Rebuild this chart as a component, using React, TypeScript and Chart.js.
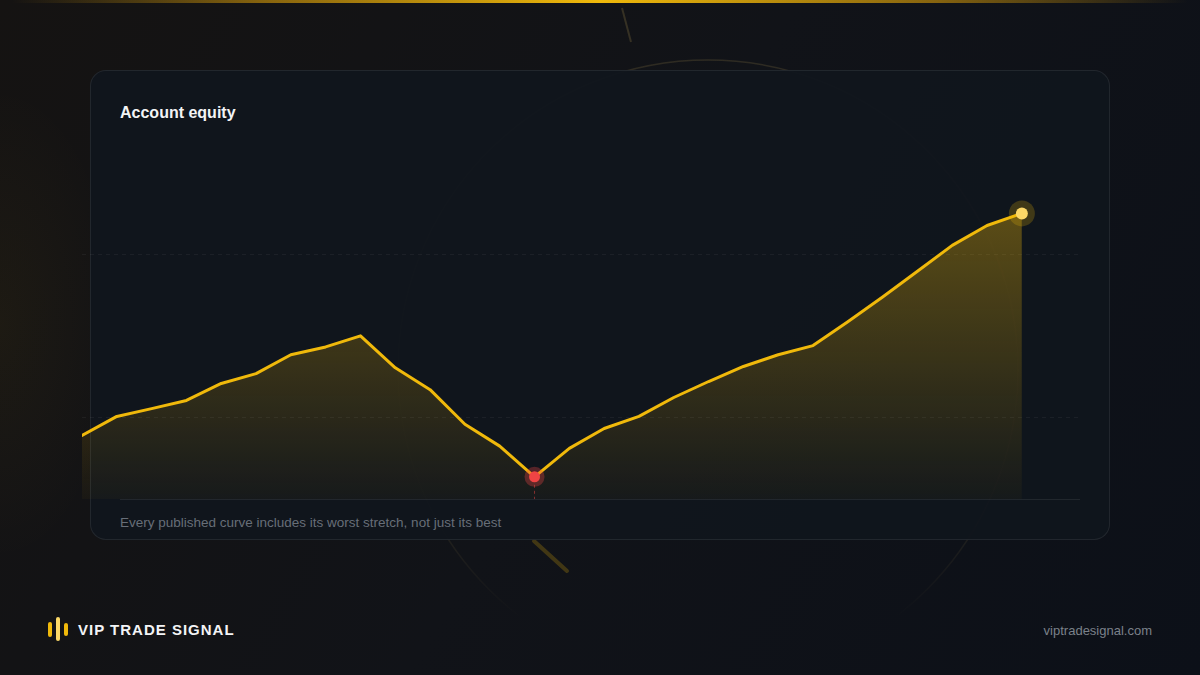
import { Chart, registerables } from 'chart.js';
Chart.register(...registerables);
import React, { useEffect, useRef } from 'react';

// weekly account equity (index, start ≈ 100)
const weeks = [
    'W1', 'W2', 'W3', 'W4', 'W5', 'W6', 'W7', 'W8', 'W9', 'W10', 'W11', 'W12', 'W13', 'W14',
    'W15', 'W16', 'W17', 'W18', 'W19', 'W20', 'W21', 'W22', 'W23', 'W24', 'W25', 'W26', 'W27', 'W28',
];
const equity = [
    94.5, 100.3, 102.7, 105.2, 110.4, 113.4, 119.2, 121.6, 125.0, 115.2, 108.5, 97.9, 91.2, 81.8,
    90.5, 96.6, 100.3, 106.1, 111.0, 115.6, 119.2, 122.0, 129.3, 136.9, 144.8, 152.7, 158.8, 162.5,
];
const gridValues = [100, 150];

const GOLD = '#f0b90b';

const markers = {
    id: 'markers',
    afterDatasetsDraw(chart: any) {
        const meta = chart.getDatasetMeta(0);
        const ctx = chart.ctx;
        const lowIdx = equity.indexOf(Math.min(...equity));
        const low = meta.data[lowIdx];
        const last = meta.data[equity.length - 1];
        const bottom = chart.chartArea.bottom;
        ctx.save();
        // drawdown drop line
        ctx.setLineDash([3, 3]);
        ctx.strokeStyle = 'rgba(239, 68, 68, 0.5)';
        ctx.lineWidth = 1;
        ctx.beginPath();
        ctx.moveTo(low.x, low.y + 8);
        ctx.lineTo(low.x, bottom);
        ctx.stroke();
        ctx.setLineDash([]);
        // low point
        ctx.fillStyle = 'rgba(239, 68, 68, 0.32)';
        ctx.beginPath(); ctx.arc(low.x, low.y, 10, 0, Math.PI * 2); ctx.fill();
        ctx.fillStyle = '#ef4444';
        ctx.beginPath(); ctx.arc(low.x, low.y, 5.5, 0, Math.PI * 2); ctx.fill();
        // last point
        ctx.fillStyle = 'rgba(240, 185, 11, 0.22)';
        ctx.beginPath(); ctx.arc(last.x, last.y, 13, 0, Math.PI * 2); ctx.fill();
        ctx.fillStyle = '#fcd867';
        ctx.beginPath(); ctx.arc(last.x, last.y, 6, 0, Math.PI * 2); ctx.fill();
        ctx.restore();
    },
};

const EquityChart: React.FC = () => {
    const ref = useRef<HTMLCanvasElement>(null);

    useEffect(() => {
        if (!ref.current) return;
        const chart = new Chart(ref.current, {
            type: 'line',
            data: {
                labels: weeks,
                datasets: [
                    {
                        data: equity.map((v, i) => ({ x: i, y: v })),
                        borderColor: GOLD,
                        borderWidth: 3,
                        borderJoinStyle: 'round',
                        borderCapStyle: 'round',
                        tension: 0,
                        pointRadius: 0,
                        fill: 'start',
                        backgroundColor: (c: any) => {
                            const area = c.chart.chartArea;
                            if (!area) return 'rgba(240,185,11,0.2)';
                            const g = c.chart.ctx.createLinearGradient(0, area.top, 0, area.bottom);
                            g.addColorStop(0, 'rgba(240, 185, 11, 0.42)');
                            g.addColorStop(1, 'rgba(240, 185, 11, 0.03)');
                            return g;
                        },
                    },
                ],
            },
            options: {
                responsive: true,
                maintainAspectRatio: false,
                animation: false,
                layout: { padding: { left: 10, right: 10, top: 10, bottom: 10 } },
                scales: {
                    x: { type: 'linear', min: 0, max: 28.67, display: false },
                    y: {
                        min: 75,
                        max: 185,
                        afterBuildTicks: (s: any) => { s.ticks = gridValues.map((v) => ({ value: v })); },
                        ticks: { display: false },
                        border: { display: false, dash: [4, 4] },
                        grid: { color: 'rgba(255, 255, 255, 0.05)', drawTicks: false },
                    } as any,
                },
                plugins: {
                    legend: { display: false },
                    tooltip: { enabled: false },
                },
            },
            plugins: [markers],
        });

        return () => {
            chart.destroy();
        };
    }, []);

    return <canvas ref={ref}></canvas>;
};

const App: React.FC = () => {
    const font = '"Liberation Sans", Arial, Helvetica, sans-serif';
    return (
        <div style={{
            position: 'fixed', left: 0, top: 0, width: 1200, height: 675, overflow: 'hidden', fontFamily: font,
            background: 'radial-gradient(ellipse 120px 240px at 0% 48%, rgba(240,185,11,0.045), transparent), linear-gradient(120deg, #151312 0%, #111318 50%, #0c1018 100%)',
        }}>
            {/* top gold bar */}
            <div style={{
                position: 'absolute', left: 0, top: 0, width: 1200, height: 3,
                background: 'linear-gradient(90deg, rgba(240,185,11,0) 1%, rgba(184,134,11,0.7) 22%, #f0b90b 50%, rgba(184,134,11,0.7) 78%, rgba(240,185,11,0) 99%)',
            }} />
            {/* decorative rings */}
            <svg width={1200} height={675} style={{ position: 'absolute', left: 0, top: 0 }}>
                <defs>
                    <linearGradient id="ringFade" x1="0" y1="0" x2="0" y2="1">
                        <stop offset="0" stopColor="rgb(200,170,90)" stopOpacity={0.16} />
                        <stop offset="0.72" stopColor="rgb(200,170,90)" stopOpacity={0.12} />
                        <stop offset="0.9" stopColor="rgb(200,170,90)" stopOpacity={0} />
                    </linearGradient>
                </defs>
                <circle cx={708} cy={370} r={310} fill="none" stroke="url(#ringFade)" strokeWidth={1.5} />
                <line x1={622} y1={8} x2={631} y2={42} stroke="rgba(200,170,90,0.2)" strokeWidth={2} />
                <line x1={534} y1={541} x2={567} y2={571} stroke="rgba(240,185,11,0.22)" strokeWidth={4} strokeLinecap="round" />
            </svg>
            {/* card */}
            <div style={{
                position: 'absolute', left: 90, top: 70, width: 1018, height: 468, borderRadius: 16,
                background: 'rgba(16, 21, 29, 0.94)', border: '1px solid rgba(255,255,255,0.08)',
            }}>
                <div style={{ position: 'absolute', left: 29, top: 33, color: '#f3f4f6', fontSize: 16, fontWeight: 700 }}>
                    Account equity
                </div>
                <div style={{
                    position: 'absolute', left: 29, top: 428, width: 960, borderTop: '1px solid rgba(255,255,255,0.08)',
                }} />
                <div style={{ position: 'absolute', left: 29, top: 444, color: '#676e78', fontSize: 13.5 }}>
                    Every published curve includes its worst stretch, not just its best
                </div>
            </div>
            {/* chart */}
            <div style={{ position: 'absolute', left: 72, top: 130, width: 1018, height: 379 }}>
                <EquityChart />
            </div>
            {/* footer */}
            <div style={{ position: 'absolute', left: 48, top: 617, height: 24, width: 22 }}>
                <div style={{ position: 'absolute', left: 0, top: 5, width: 4, height: 15, borderRadius: 2, background: GOLD }} />
                <div style={{ position: 'absolute', left: 8, top: 0, width: 4, height: 24, borderRadius: 2, background: '#fcd867' }} />
                <div style={{ position: 'absolute', left: 16, top: 6, width: 4, height: 13, borderRadius: 2, background: GOLD }} />
            </div>
            <div style={{ position: 'absolute', left: 78, top: 621, color: '#f3f4f6', fontSize: 15, fontWeight: 700, letterSpacing: 1.0 }}>
                VIP TRADE SIGNAL
            </div>
            <div style={{ position: 'absolute', right: 48, top: 623, color: '#7b818a', fontSize: 13 }}>
                viptradesignal.com
            </div>
        </div>
    );
};

export default App;
